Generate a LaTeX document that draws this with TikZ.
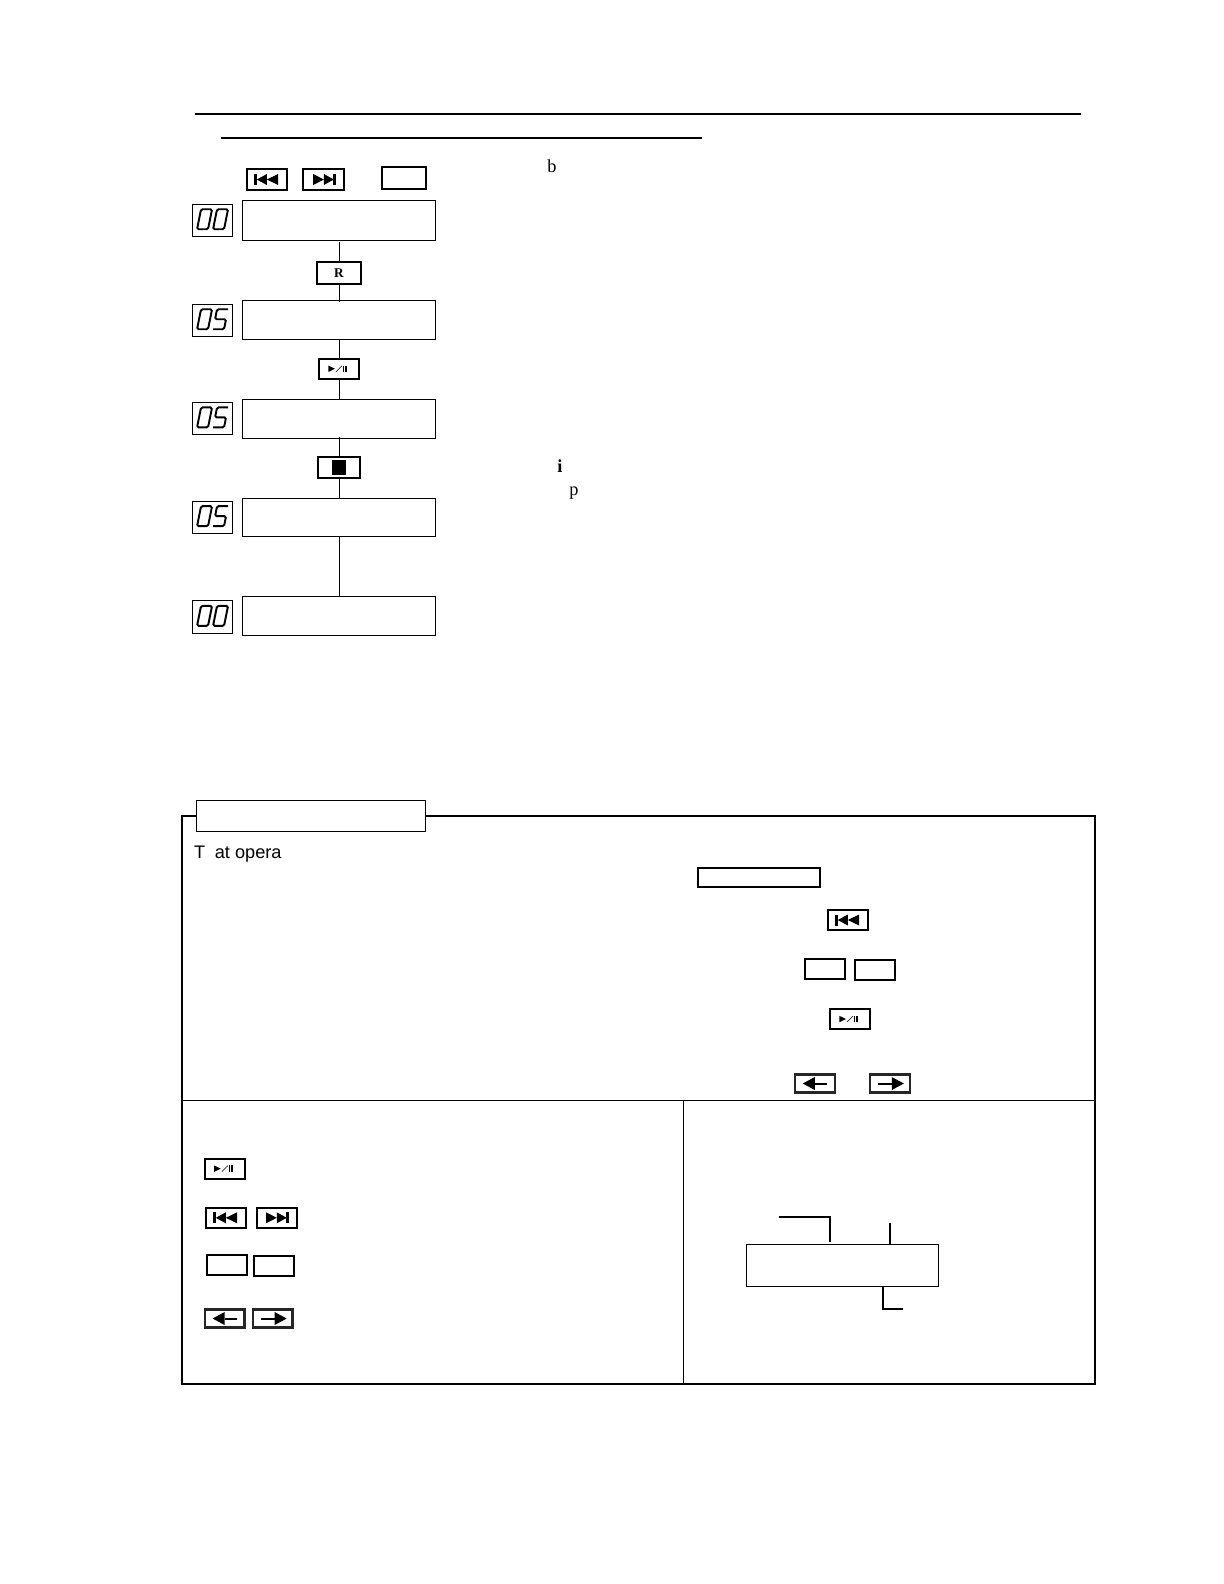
\documentclass[tikz,border=0pt]{standalone}
\usepackage{fontspec}
\setmainfont{Liberation Serif}
\newfontfamily\panelsans{Liberation Sans}
\newcommand{\bxat}[6]{%
  \pgfmathsetmacro\bxcx{(#3+#5)/2}%
  \pgfmathsetmacro\bxcy{(#4+#6)/2}%
  \pgfmathsetmacro\bxw{(#5-#3)*0.6}%
  \pgfmathsetmacro\bxh{(#6-#4)*0.6}%
  \node[#2,minimum width=\bxw pt,minimum height=\bxh pt] (#1) at (\bxcx,\bxcy) {};}
\newcommand{\btnat}[6]{%
  \pgfmathsetmacro\bxcx{(#3+#5)/2}%
  \pgfmathsetmacro\bxcy{(#4+#6)/2}%
  \pgfmathsetmacro\bxw{(#5-#3-0.9)*0.6}%
  \pgfmathsetmacro\bxh{(#6-#4-0.9)*0.6}%
  \node[#2,minimum width=\bxw pt,minimum height=\bxh pt] (#1) at (\bxcx,\bxcy) {};}
\tikzset{
  thinbox/.style={draw=black,line width=0.6pt,fill=white,inner sep=0pt,outer sep=0pt,rectangle},
  btnbox/.style={draw=black,line width=1.2pt,fill=white,inner sep=0pt,outer sep=0pt,rectangle},
  arrowbox/.style={draw=black!85,line width=1.3pt,fill=white,inner sep=0pt,outer sep=0pt,rectangle},
  conn/.style={line width=0.6pt,draw=black},
  leader/.style={line width=1pt,draw=black},
  heavy/.style={line width=1.2pt,draw=black},
  txt/.style={font=\fontsize{11}{13}\selectfont,anchor=base,inner sep=0pt},
  prevglyph/.pic={\fill (-12.5,-5.5) rectangle (-9.5,5.5);
    \fill (-10,0) -- (0,-5.5) -- (0,5.5) -- cycle;
    \fill (0,0) -- (11.3,-5.5) -- (11.3,5.5) -- cycle;},
  nextglyph/.pic={\fill (12.5,-5.5) rectangle (9.5,5.5);
    \fill (10,0) -- (0,-5.5) -- (0,5.5) -- cycle;
    \fill (0,0) -- (-10.7,-5.5) -- (-10.7,5.5) -- cycle;},
  playglyph/.pic={\fill (-10.7,-3.2) -- (-4,0) -- (-10.7,3.2) -- cycle;
    \draw[line width=0.35pt] (-3,3) -- (3,-3);
    \fill (3.7,-3.2) rectangle (5.2,3.2);
    \fill (6.4,-3.2) rectangle (8,3.2);},
  leftglyph/.pic={\fill (-12,0) -- (0,-6.5) -- (0,6.5) -- cycle;
    \fill (0,-1) rectangle (12,1);},
  rightglyph/.pic={\fill (14,0) -- (2,-6.5) -- (2,6.5) -- cycle;
    \fill (-12,-1) rectangle (2,1);},
  seg/.style={line width=1.15pt,rounded corners=0.9pt,xslant=0.2},
  oozero/.pic={
    \draw[seg] (-13.5,-11) rectangle (-2.5,9);
    \draw[seg] (2.5,-11) rectangle (13.5,9);},
  oofive/.pic={
    \draw[seg] (-13.5,-11) rectangle (-2.5,9);
    \draw[seg] (13.5,-11) -- (2.5,-11) -- (2.5,-1) -- (13.5,-1) -- (13.5,9) -- (2.5,9);},
}
\begin{document}
\begin{tikzpicture}[x=0.6pt,y=-0.6pt]
\useasboundingbox[fill=white] (0,0) rectangle (1224,1584);
% top rules
\coordinate (ra) at (195,114); \coordinate (rb) at (1081,114);
\coordinate (rc) at (221,138); \coordinate (rd) at (702,138);
\draw[heavy] (ra) -- (rb);
\draw[heavy] (rc) -- (rd);
% top buttons
\btnat{tprev}{btnbox}{246.7}{169}{287}{190}
\pic at (tprev) {prevglyph};
\btnat{tnext}{btnbox}{303}{169}{344.7}{190}
\pic at (tnext) {nextglyph};
\btnat{tblank}{btnbox}{381.7}{166.7}{426}{189}
% flow boxes
\bxat{sa}{thinbox}{242.5}{200}{435.5}{240}
\bxat{sb}{thinbox}{242.5}{300.3}{435.5}{339}
\bxat{sc}{thinbox}{242.5}{399.3}{435.5}{438.3}
\bxat{sd}{thinbox}{242.5}{498.3}{435.5}{536.3}
\bxat{se}{thinbox}{242.5}{596.3}{435.5}{635.3}
% displays
\bxat{da}{thinbox}{192}{204}{232.7}{236.5}
\pic at (da) {oozero};
\bxat{db}{thinbox}{192}{304}{232.7}{336.5}
\pic at (db) {oofive};
\bxat{dc}{thinbox}{192}{402.3}{232.7}{434.5}
\pic at (dc) {oofive};
\bxat{dd}{thinbox}{192}{501.3}{232.7}{533}
\pic at (dd) {oofive};
\bxat{de}{thinbox}{192}{600.7}{232.7}{633}
\pic at (de) {oozero};
% flow buttons
\btnat{br}{btnbox}{316.7}{261.5}{361.3}{284}
\node[font=\fontsize{8}{9}\selectfont\bfseries,inner sep=0pt] (brtext) at (br) {R};
\btnat{bp}{btnbox}{318.5}{358.5}{359.5}{379}
\pic at (bp) {playglyph};
\btnat{bs}{btnbox}{317.5}{456.7}{360.5}{478}
\fill (332,460) rectangle (346,475);
% flow connectors
\draw[conn,shorten <=1.2pt] (sa.south) -- (br.north);
\draw[conn,shorten >=-1.2pt] (br.south) -- (sb.north);
\draw[conn] (sb.south) -- (bp.north);
\draw[conn] (bp.south) -- (sc.north);
\draw[conn,shorten <=-0.6pt] (sc.south) -- (bs.north);
\draw[conn] (bs.south) -- (sd.north);
\draw[conn] (sd.south) -- (se.north);
% texts
\node[txt] (tb) at (552,172.5) {b};
\node[txt,font=\fontsize{11}{13}\selectfont\bfseries] (ti) at (560,472.5) {i};
\node[txt] (tp) at (574,495) {p};
% panel
\draw[leader] (182,815.7) rectangle (1095,1384);
\coordinate (hl) at (182,1100.3); \coordinate (hr) at (1095,1100.3);
\coordinate (vt) at (683.5,1100.3); \coordinate (vb) at (683.5,1384);
\draw[conn] (hl) -- (hr);
\draw[conn] (vt) -- (vb);
\bxat{ptitle}{thinbox}{196.3}{800.3}{425.7}{831.3}
\node[anchor=base west,inner sep=0pt,font=\panelsans\fontsize{10.9}{12}\selectfont] (pt) at (193.8,858) {T\hspace{5.8pt}at opera};
% upper right of panel
\btnat{uwide}{btnbox}{697.3}{867.7}{820.3}{887}
\btnat{uprev}{btnbox}{827.3}{909.7}{868.3}{930.3}
\pic at (uprev) {prevglyph};
\btnat{ubla}{btnbox}{804.3}{958.5}{845.3}{979.3}
\btnat{ublb}{btnbox}{854.7}{959.3}{895.3}{980}
\btnat{uplay}{btnbox}{829.7}{1008.7}{870.3}{1029.3}
\pic at (uplay) {playglyph};
\btnat{uleft}{arrowbox}{794.3}{1074}{835.3}{1093}
\pic at (uleft) {leftglyph};
\btnat{uright}{arrowbox}{869.3}{1074}{910.3}{1093}
\pic at (uright) {rightglyph};
% lower left of panel
\btnat{lplay}{btnbox}{204.3}{1158.3}{245.3}{1179}
\pic at (lplay) {playglyph};
\btnat{lprev}{btnbox}{205.3}{1207.3}{246.3}{1228.3}
\pic at (lprev) {prevglyph};
\btnat{lnext}{btnbox}{256.3}{1207.3}{297.3}{1228.3}
\pic at (lnext) {nextglyph};
\btnat{lbla}{btnbox}{206.3}{1254.3}{247.3}{1275}
\btnat{lblb}{btnbox}{253.3}{1255.3}{294.3}{1276}
\btnat{lleft}{arrowbox}{204.3}{1309}{245}{1328}
\pic at (lleft) {leftglyph};
\btnat{lright}{arrowbox}{252.3}{1309}{293}{1328}
\pic at (lright) {rightglyph};
% lower right of panel
\bxat{lcd}{thinbox}{746.3}{1244.3}{938.7}{1286.7}
\coordinate (la) at (779,1216.7); \coordinate (lb) at (830,1216.7); \coordinate (lc) at (830,1242);
\coordinate (ld) at (890,1223); \coordinate (le) at (890,1244.3);
\coordinate (lf) at (883,1286); \coordinate (lg) at (883,1308.7); \coordinate (lh) at (903,1308.7);
\draw[leader] (la) -- (lb) -- (lc);
\draw[leader] (ld) -- (le);
\draw[leader] (lf) -- (lg) -- (lh);
\end{tikzpicture}
\end{document}
